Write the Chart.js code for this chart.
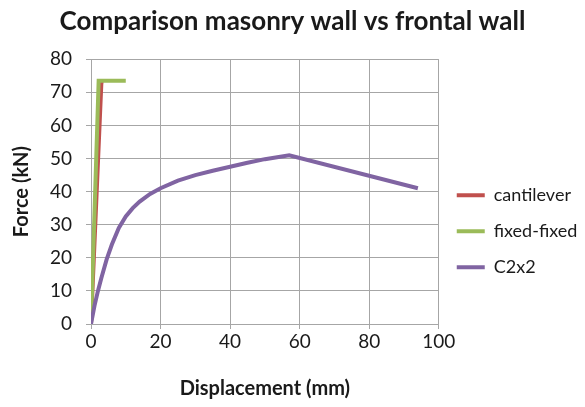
<!DOCTYPE html>
<html>
<head>
<meta charset="utf-8">
<script src="https://cdn.jsdelivr.net/npm/chart.js@4/dist/chart.umd.min.js"></script>
<style>
  html, body { margin: 0; padding: 0; background: #fff; }
  #wrap { width: 585px; height: 407px; }
</style>
</head>
<body>
<div id="wrap"><canvas id="canvas" width="585" height="407"></canvas></div>
<script>
// values
const cantX = [0, 3.0, 3.6]
const cantY = [0, 73.3, 73.3]
const fixedX = [0, 2.2, 10]
const fixedY = [0, 73.5, 73.5]
const c2x2X = [0, 1, 2, 3, 4.5, 6, 8, 10, 12, 14, 17, 20, 25, 30, 35, 40, 45, 50, 57, 94]
const c2x2Y = [0, 5.5, 10, 14, 19.5, 24, 29, 32.5, 35, 37, 39.3, 41, 43.3, 45, 46.3, 47.5, 48.7, 49.8, 51, 41]
const xTicks = [0, 20, 40, 60, 80, 100]
const yTicks = [0, 10, 20, 30, 40, 50, 60, 70, 80]

const pts = (xs, ys) => xs.map((x, i) => ({ x, y: ys[i] }))
const font = 'Lato, "Open Sans", sans-serif'
const grid = '#a6a6a6'
const ink = '#1a1a1a'

const series = [
  { label: 'cantilever', data: pts(cantX, cantY), color: '#c0504d', order: 3 },
  { label: 'fixed-fixed', data: pts(fixedX, fixedY), color: '#9bbb59', order: 2 },
  { label: 'C2x2', data: pts(c2x2X, c2x2Y), color: '#8064a2', order: 1 }
]

new Chart(document.getElementById('canvas').getContext('2d'), {
  type: 'scatter',
  data: {
    datasets: series.map(s => ({
      label: s.label,
      data: s.data,
      order: s.order,
      showLine: true,
      borderColor: s.color,
      backgroundColor: s.color,
      borderWidth: 4,
      pointRadius: 0,
      tension: 0
    }))
  },
  options: {
    responsive: false,
    animation: false,
    layout: { padding: { left: 0, right: 0, top: 6, bottom: 0 } },
    plugins: {
      title: {
        display: true,
        text: 'Comparison masonry wall vs frontal wall',
        color: ink,
        font: { family: font, size: 26, weight: 'bold' },
        padding: { top: 0, bottom: 22 }
      },
      legend: {
        position: 'right',
        title: { display: true, text: ' ', font: { size: 18 }, padding: { top: 0, bottom: 28 } },
        labels: {
          usePointStyle: true,
          pointStyle: 'line',
          pointStyleWidth: 28,
          color: ink,
          padding: 18,
          font: { family: font, size: 18 },
          sort: (a, b) => a.datasetIndex - b.datasetIndex
        }
      },
      tooltip: { enabled: false }
    },
    scales: {
      x: {
        type: 'linear',
        min: 0,
        max: 100,
        afterBuildTicks: scale => { scale.ticks = xTicks.map(v => ({ value: v })) },
        afterFit: scale => { scale.height = 83 },
        grid: { color: grid, tickLength: 5 },
        border: { color: grid },
        ticks: { color: ink, font: { family: font, size: 19 }, padding: 1 },
        title: {
          display: true,
          text: 'Displacement (mm)',
          color: ink,
          font: { family: font, size: 20, weight: 'bold' },
          padding: { top: 18, bottom: 6 }
        }
      },
      y: {
        type: 'linear',
        min: 0,
        max: 80,
        afterBuildTicks: scale => { scale.ticks = yTicks.map(v => ({ value: v })) },
        afterFit: scale => { scale.width = 91 },
        grid: { color: grid, tickLength: 5 },
        border: { color: grid },
        ticks: { color: ink, font: { family: font, size: 19 }, padding: 14 },
        title: {
          display: true,
          text: 'Force (kN)',
          color: ink,
          font: { family: font, size: 20, weight: 'bold' },
          padding: { top: 10, bottom: 12 }
        }
      }
    }
  }
})
</script>
</body>
</html>
